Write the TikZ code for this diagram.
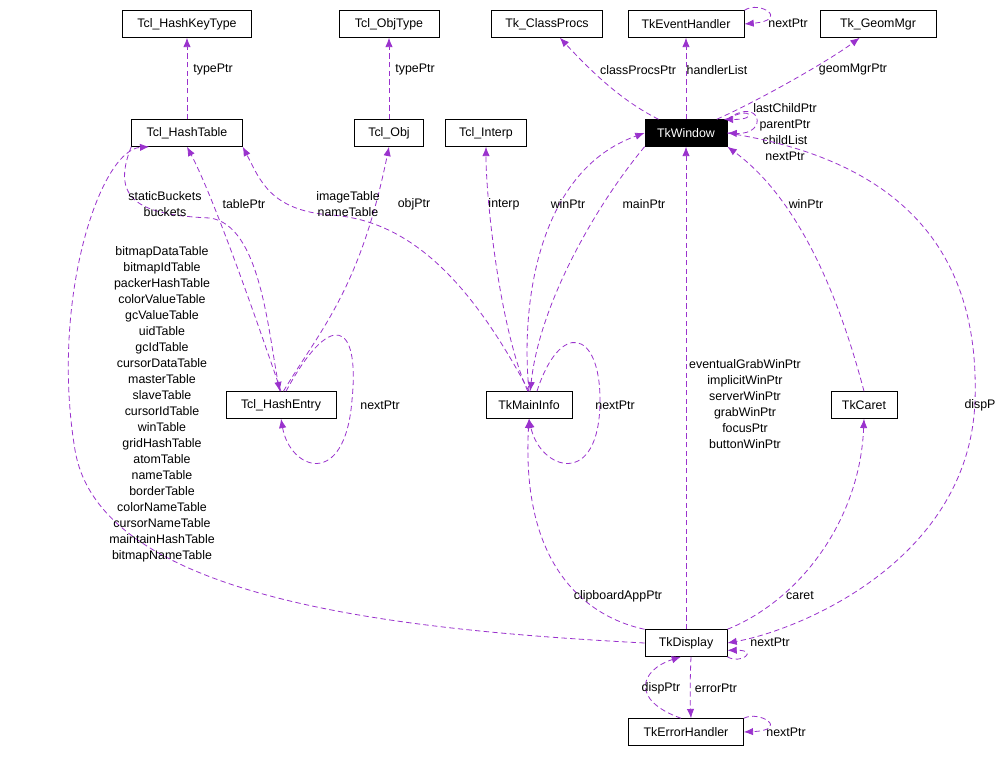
\documentclass[tikz,border=0pt]{standalone}
\usepackage{fontspec}
\setmainfont{Liberation Sans}
\usetikzlibrary{arrows.meta}
\definecolor{edge}{HTML}{9A32CD}
\begin{document}
\begin{tikzpicture}[x=0.75pt,y=-0.75pt,
  box/.style={draw=black,fill=white,font=\fontsize{9.3}{11}\selectfont,minimum height=20pt,inner xsep=5pt,line width=0.6pt},
  e/.style={draw=edge,dashed,dash pattern=on 4pt off 2.5pt,line width=0.6pt,-{Latex[length=7pt,width=5.5pt]}},
  lb/.style={font=\fontsize{9.3}{12}\selectfont,align=center,inner sep=0pt}]
\useasboundingbox (0,0) rectangle (995,760);
\fill[white] (0,0) rectangle (995,760);
\node[box,minimum width=96.75pt] (hkt) at (187,24) {Tcl\_HashKeyType};
\node[box,minimum width=75pt] (ot) at (389,24) {Tcl\_ObjType};
\node[box,minimum width=83pt] (cp) at (547,24) {Tk\_ClassProcs};
\node[box,minimum width=87pt] (teh) at (686,24) {TkEventHandler};
\node[box,minimum width=87pt] (gm) at (878,24) {Tk\_GeomMgr};
\node[box,minimum width=83pt] (ht) at (187,133) {Tcl\_HashTable};
\node[box,minimum width=52pt] (obj) at (389,133) {Tcl\_Obj};
\node[box,minimum width=61pt] (ip) at (486,133) {Tcl\_Interp};
\node[box,minimum width=61.5pt,fill=black,text=white] (tw) at (686,133) {TkWindow};
\node[box,minimum width=82.5pt] (he) at (281,405) {Tcl\_HashEntry};
\node[box,minimum width=64.5pt] (mi) at (529,405) {TkMainInfo};
\node[box,minimum width=49.5pt] (ca) at (864,405) {TkCaret};
\node[box,minimum width=61.5pt] (di) at (686,643) {TkDisplay};
\node[box,minimum width=86pt] (eh) at (686,732) {TkErrorHandler};

% top row
\draw[e] (ht) -- (hkt); \node[lb] at (213,70) {typePtr};
\draw[e] (obj) -- (ot); \node[lb] at (415,70) {typePtr};
\draw[e] (tw) .. controls (620,100) and (590,70) .. (cp); \node[lb] at (638,70) {classProcsPtr};
\draw[e] (tw) -- (teh); \node[lb] at (717,70) {handlerList};
\draw[e] (tw) .. controls (760,100) and (830,60) .. (gm); \node[lb] at (853,70) {geomMgrPtr};
\draw[e] (teh.north east) .. controls (760,0) and (790,20) .. (teh.east);
\node[lb] at (788,23) {nextPtr};
\draw[e] (tw.north east) .. controls (750,105) and (760,120) .. (tw.20);
\draw[e] (tw.north east) .. controls (760,95) and (770,135) .. (tw.east);
\node[lb] at (785,132) {lastChildPtr\\parentPtr\\childList\\nextPtr};

% hash stuff
\draw[e] (he.north) .. controls (260,330) and (215,200) .. (ht.south); \node[lb] at (244,204) {tablePtr};
\draw[e] (ht.south west) .. controls (110,200) and (140,215) .. (210,218) .. controls (260,225) and (268,330) .. (he.95);
\node[lb] at (165,204) {staticBuckets\\buckets};
\draw[e] (he.80) .. controls (320,330) and (360,290) .. (obj.south); \node[lb] at (414,204) {objPtr};
\draw[e] (he.70) .. controls (330,310) and (360,320) .. (352,400) .. controls (345,490) and (290,470) .. (he.south);
\node[lb] at (380,405) {nextPtr};
\draw[e] (mi.north) .. controls (480,300) and (420,220) .. (330,215) .. controls (270,210) and (260,180) .. (ht.south east);
\node[lb] at (348,204) {imageTable\\nameTable};
\draw[e] (di.west) .. controls (400,630) and (100,600) .. (75,450) .. controls (50,300) and (100,150) .. (ht.200);
\node[lb] at (162,404) {bitmapDataTable\\bitmapIdTable\\packerHashTable\\colorValueTable\\gcValueTable\\uidTable\\gcIdTable\\cursorDataTable\\masterTable\\slaveTable\\cursorIdTable\\winTable\\gridHashTable\\atomTable\\nameTable\\borderTable\\colorNameTable\\cursorNameTable\\maintainHashTable\\bitmapNameTable};

% main info
\draw[e] (mi.95) .. controls (500,330) and (486,200) .. (ip.south); \node[lb] at (504,204) {interp};
\draw[e] (mi.north) .. controls (520,300) and (540,170) .. (tw.west); \node[lb] at (568,204) {winPtr};
\draw[e] (tw.south west) .. controls (600,200) and (540,300) .. (mi.85); \node[lb] at (644,204) {mainPtr};
\draw[e] (mi.60) .. controls (560,320) and (600,330) .. (600,400) .. controls (600,490) and (540,470) .. (mi.south);
\node[lb] at (615,405) {nextPtr};
\draw[e] (ca.north) .. controls (840,300) and (800,200) .. (tw.south east); \node[lb] at (806,204) {winPtr};
\draw[e] (di.north) -- (tw.south);
\node[lb] at (745,404) {eventualGrabWinPtr\\implicitWinPtr\\serverWinPtr\\grabWinPtr\\focusPtr\\buttonWinPtr};
\draw[e] (tw.east) .. controls (900,160) and (980,250) .. (975,400) .. controls (970,560) and (800,630) .. (di.east);
\node[lb] at (980,405) {dispP};

% display
\draw[e] (di.north west) .. controls (600,620) and (520,580) .. (mi.south); \node[lb] at (618,596) {clipboardAppPtr};
\draw[e] (di.north east) .. controls (800,600) and (860,520) .. (ca.south); \node[lb] at (800,596) {caret};
\draw[e] (di.south east) .. controls (740,665) and (760,650) .. (di.-10);
\node[lb] at (770,642) {nextPtr};
\draw[e] (eh.110) .. controls (630,700) and (640,670) .. (di.250); \node[lb] at (661,688) {dispPtr};
\draw[e] (di.290) .. controls (690,680) and (690,700) .. (eh.70); \node[lb] at (716,688) {errorPtr};
\draw[e] (eh.north east) .. controls (760,710) and (790,730) .. (eh.east);
\node[lb] at (786,732) {nextPtr};
\end{tikzpicture}
\end{document}
